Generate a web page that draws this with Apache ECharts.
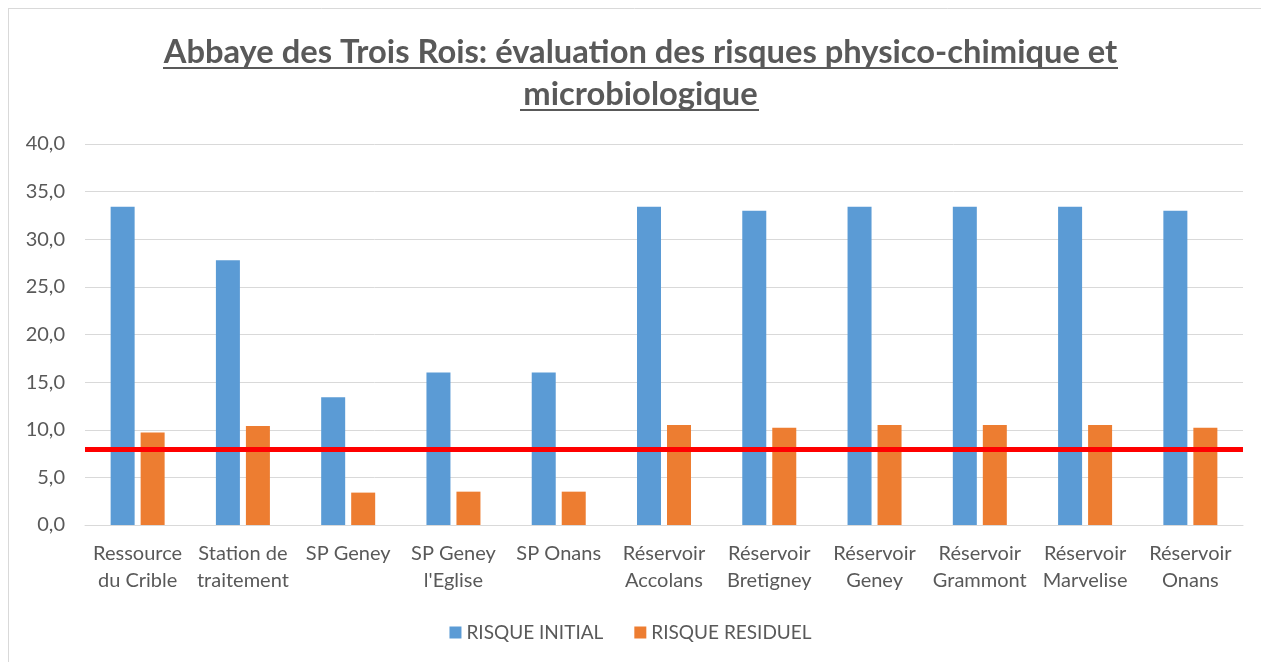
<!DOCTYPE html>
<html>
<head>
<meta charset="utf-8">
<script src="https://cdn.jsdelivr.net/npm/echarts@6/dist/echarts.min.js"></script>
<style>html,body{margin:0;padding:0;background:#fff;}#c{width:1261px;height:662px;}</style>
</head>
<body>
<div id="c"></div>
<script>
const titleLines = ['Abbaye des Trois Rois: évaluation des risques physico-chimique et', 'microbiologique'];
const categories = ['Ressource\ndu Crible', 'Station de\ntraitement', 'SP Geney', "SP Geney\nl'Eglise", 'SP Onans', 'Réservoir\nAccolans', 'Réservoir\nBretigney', 'Réservoir\nGeney', 'Réservoir\nGrammont', 'Réservoir\nMarvelise', 'Réservoir\nOnans'];
const risqueInitial = [33.4, 27.8, 13.4, 16.0, 16.0, 33.4, 33.0, 33.4, 33.4, 33.4, 33.0];
const risqueResiduel = [9.7, 10.4, 3.4, 3.5, 3.5, 10.5, 10.2, 10.5, 10.5, 10.5, 10.2];
const seuil = 8;
const yTicks = {min: 0, max: 40, interval: 5};

const FONT = 'Lato';
const GREY = '#595959';
const chart = echarts.init(document.getElementById('c'), null, {renderer: 'canvas'});
chart.setOption({
  animation: false,
  backgroundColor: '#fff',
  textStyle: {fontFamily: FONT},
  graphic: [
    {type: 'line', shape: {x1: 8, y1: 8.5, x2: 1261, y2: 8.5}, style: {stroke: '#d9d9d9', lineWidth: 1}},
    {type: 'line', shape: {x1: 8.5, y1: 8, x2: 8.5, y2: 662}, style: {stroke: '#d9d9d9', lineWidth: 1}},
    {type: 'text', x: 640.5, y: 31, style: {text: titleLines.join('\n'), textAlign: 'center', textVerticalAlign: 'top',
      fontFamily: FONT, fontWeight: 'bold', fontSize: 32.7, lineHeight: 42, fill: GREY}},
    {type: 'line', shape: {x1: 163, y1: 68, x2: 1118, y2: 68}, style: {stroke: GREY, lineWidth: 2}},
    {type: 'line', shape: {x1: 520, y1: 110, x2: 759, y2: 110}, style: {stroke: GREY, lineWidth: 2}}
  ],
  grid: {left: 85, right: 18, top: 144, bottom: 137, containLabel: false},
  legend: {
    bottom: 15,
    left: 'center',
    itemWidth: 12,
    itemHeight: 12,
    itemGap: 31,
    icon: 'rect',
    textStyle: {fontFamily: FONT, fontSize: 19, color: GREY},
    data: ['RISQUE INITIAL', 'RISQUE RESIDUEL']
  },
  xAxis: {
    type: 'category',
    data: categories,
    axisLine: {lineStyle: {color: '#d9d9d9', width: 1}},
    axisTick: {show: false},
    axisLabel: {fontFamily: FONT, fontSize: 20, color: GREY, lineHeight: 27, margin: 15, interval: 0}
  },
  yAxis: {
    type: 'value',
    min: yTicks.min, max: yTicks.max, interval: yTicks.interval,
    axisLine: {show: false},
    axisTick: {show: false},
    splitLine: {lineStyle: {color: '#d9d9d9', width: 1}},
    axisLabel: {fontFamily: FONT, fontSize: 20, color: GREY, margin: 20, formatter: v => v.toFixed(1).replace('.', ',')}
  },
  series: [
    {
      name: 'RISQUE INITIAL', type: 'bar', data: risqueInitial, barWidth: 24, barGap: '25%',
      itemStyle: {color: '#5b9bd5'},
      markLine: {
        silent: true, symbol: ['none', 'none'], label: {show: false},
        lineStyle: {color: '#ff0000', width: 5, type: 'solid'},
        data: [{yAxis: seuil}]
      }
    },
    {
      name: 'RISQUE RESIDUEL', type: 'bar', data: risqueResiduel, barWidth: 24, barGap: '25%',
      itemStyle: {color: '#ed7d31'}
    }
  ]
});
</script>
</body>
</html>
